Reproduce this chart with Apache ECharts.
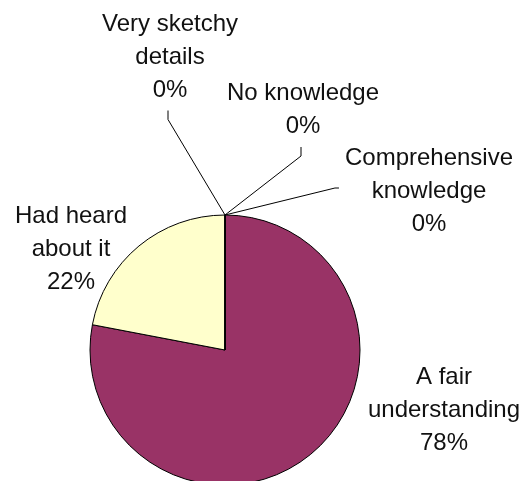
<!DOCTYPE html>
<html>
<head>
<meta charset="utf-8">
<script src="https://cdn.jsdelivr.net/npm/echarts@6/dist/echarts.min.js"></script>
<style>
  html, body { margin: 0; padding: 0; background: #ffffff; }
  #chart-container { width: 526px; height: 481px; }
</style>
</head>
<body>
<div id="chart-container"></div>
<script>
// slices, clockwise from 12 o'clock
const categories = ['Comprehensive\nknowledge', 'A fair\nunderstanding', 'Had heard\nabout it', 'Very sketchy\ndetails', 'No knowledge'];
const values = [0, 78, 22, 0, 0];
const sliceColors = ['#3366ff', '#993366', '#ffffcc', '#ccffff', '#660066'];
// where each label block sits (centre of text) and which side the leader line meets
const labelPos = [[429, 191], [444, 410], [71, 249], [170, 57], [303, 110]];
const lineSide = ['left', null, null, 'bottom', 'bottom'];

const chartContainer = document.getElementById('chart-container');
const myChart = echarts.init(chartContainer);

const seriesData = categories.map((name, i) => ({
    name: name,
    value: values[i],
    itemStyle: { color: sliceColors[i] },
    labelLine: { show: values[i] === 0 }
}));

const options = {
    backgroundColor: '#ffffff',
    animation: false,
    series: [{
        type: 'pie',
        center: [225, 350],
        radius: 135,
        startAngle: 90,
        clockwise: true,
        avoidLabelOverlap: false,
        itemStyle: {
            borderColor: '#000000',
            borderWidth: 1
        },
        label: {
            show: true,
            formatter: '{b}\n{d}%',
            fontFamily: 'Liberation Sans, Arial, sans-serif',
            fontSize: 24,
            lineHeight: 33,
            color: '#111111',
            align: 'center'
        },
        labelLine: {
            lineStyle: { color: '#000000', width: 1 }
        },
        labelLayout: function (params) {
            const i = params.dataIndex;
            const p = labelPos[i];
            const out = {
                x: p[0],
                y: p[1],
                align: 'center',
                verticalAlign: 'middle'
            };
            const side = lineSide[i];
            if (side && params.labelLinePoints) {
                const anchor = params.labelLinePoints[0];
                const w = params.labelRect.width;
                const h = params.labelRect.height;
                let end, bend;
                if (side === 'left') {
                    end = [p[0] - w / 2 - 6, p[1] - 3];
                    bend = [end[0] - 4, end[1]];
                } else {
                    end = [p[0] - 2, p[1] + h / 2 + 4];
                    bend = [end[0], end[1] + 9];
                }
                out.labelLinePoints = [anchor, bend, end];
            }
            return out;
        },
        emphasis: { disabled: true },
        data: seriesData
    }]
};

myChart.setOption(options);

window.addEventListener('resize', function () {
    myChart.resize();
});
</script>
</body>
</html>
